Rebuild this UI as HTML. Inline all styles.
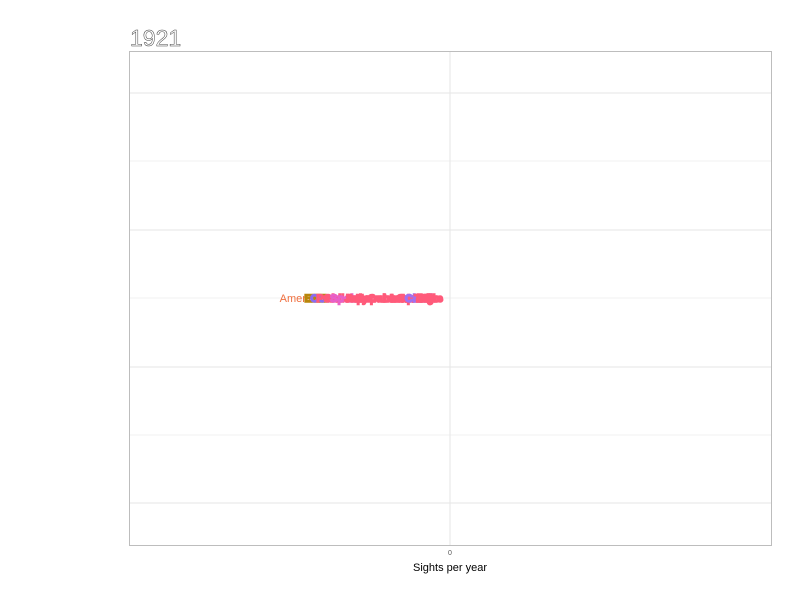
<!DOCTYPE html>
<html><head><meta charset="utf-8"><style>
body{margin:0;background:#fff;}
svg{display:block;font-family:"Liberation Sans",sans-serif;}
</style></head><body>
<svg id="chart" width="800" height="600">
<rect x="0" y="0" width="800" height="600" fill="#fff"/>
<g id="grid"></g>
<g id="marks"></g>
<rect x="129.5" y="51.5" width="642" height="494" fill="none" stroke="#bdbdbd"/>
<text x="130" y="46" font-size="23" fill="#fff" stroke="#444" stroke-width="0.5">1921</text>
<text x="450" y="555" font-size="7" fill="#555" text-anchor="middle">0</text>
<text x="450" y="571" font-size="11" fill="#000" text-anchor="middle">Sights per year</text>
</svg>
<script>
const labels=["America","EEE","Oce","Peru","Chile","Spain","Italy","Japan","Nepal","Cuba","Iran","Iraq","Laos","Mali","Oman","Chad","Fiji","Togo","Niue"];
const values=[-0.405,-0.385,-0.37,-0.34,-0.31,-0.28,-0.255,-0.23,-0.20,-0.17,-0.145,-0.125,-0.105,-0.085,-0.07,-0.055,-0.045,-0.03,-0.022];
const colors=["#f07040","#b8860b","#8a6cf0","#ff5a7a","#ff5a7a","#e860c8","#ff5a7a","#ff5a7a","#ff5a7a","#ff5a7a","#ff5a7a","#ff5a7a","#ff5a7a","#ff5a7a","#ff5a7a","#a070f0","#ff5a7a","#ff5a7a","#ff5a7a"];
const yTicks=[93,161,230,298,367,435,503];
const X0=129,X1=771,Y0=51,Y1=545;
function x(v){return X0+(v+1)/2*(X1-X0);}
const ns="http://www.w3.org/2000/svg";
const grid=document.getElementById('grid');
yTicks.forEach((t,i)=>{const l=document.createElementNS(ns,'line');
l.setAttribute('x1',X0);l.setAttribute('x2',X1);l.setAttribute('y1',t);l.setAttribute('y2',t);
l.setAttribute('stroke',i%2?'#f2f2f2':'#e6e6e6');


grid.appendChild(l);});
const vl=document.createElementNS(ns,'line');
vl.setAttribute('x1',x(0));vl.setAttribute('x2',x(0));vl.setAttribute('y1',Y0);vl.setAttribute('y2',Y1);vl.setAttribute('stroke','#e6e6e6');


grid.appendChild(vl);
const marks=document.getElementById('marks');
labels.forEach((lab,i)=>{const t=document.createElementNS(ns,'text');
t.setAttribute('x',x(values[i]));t.setAttribute('y',302);
t.setAttribute('font-size','11');t.setAttribute('fill',colors[i]);
t.setAttribute('text-anchor','end');
if(i>0){t.setAttribute('font-weight','bold');t.setAttribute('stroke',colors[i]);t.setAttribute('stroke-width','1.5');}
t.textContent=lab;


marks.appendChild(t);});
</script>
</body></html>
